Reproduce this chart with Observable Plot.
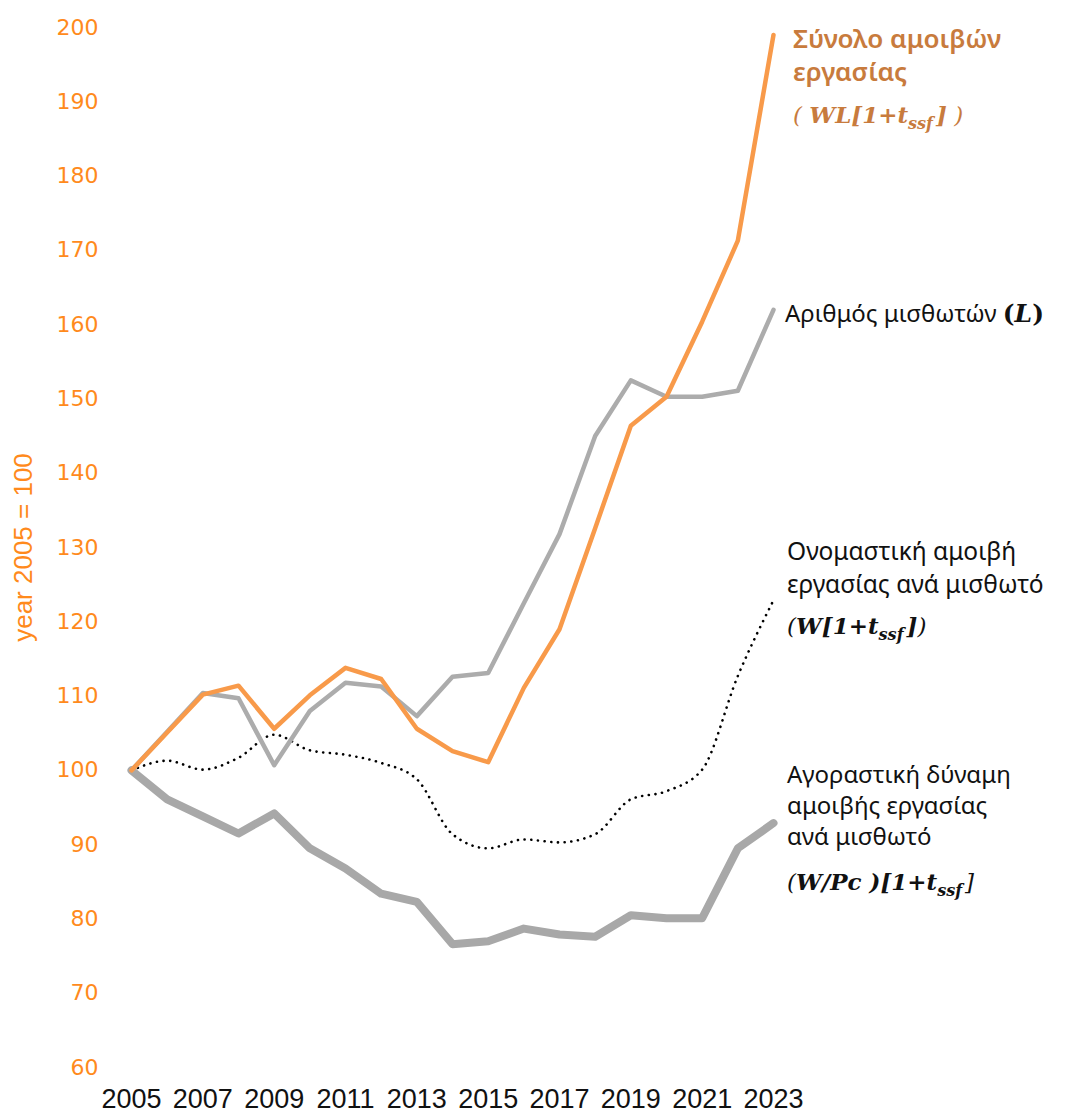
<!DOCTYPE html>
<html><head><meta charset="utf-8">
<script src="https://cdn.jsdelivr.net/npm/d3@7"></script>
<script src="https://cdn.jsdelivr.net/npm/@observablehq/plot@0.6"></script>
<style>body{margin:0;background:#fff}</style>
</head><body><div id="chart"></div>
<script>
// ---- data (index, year 2005 = 100) ----
const years = d3.range(2005, 2024);
const totalComp     = [100,105.1,110.2,111.4,105.6,110.1,113.8,112.3,105.6,102.6,101.1,111.1,119.0,132.6,146.4,150.3,160.4,171.3,199.0];
const employees     = [100,105.2,110.4,109.7,100.7,108.0,111.8,111.3,107.3,112.6,113.1,122.5,131.8,145.0,152.5,150.3,150.3,151.1,162.0];
const nominalPerEmp = [100,101.3,100.1,101.7,104.8,102.7,102.1,101.0,98.8,91.4,89.5,90.7,90.3,91.4,96.1,97.2,100.1,112.7,122.9];
const realPerEmp    = [100,96.1,93.8,91.5,94.2,89.5,86.8,83.4,82.3,76.6,77.0,78.7,77.9,77.6,80.5,80.1,80.1,89.5,92.9];
const yTicks = d3.range(60, 201, 10);
const xTicks = d3.range(2005, 2024, 2);
const yLabel = "year 2005 = 100";

const labelTotal   = ["Σύνολο αμοιβών", "εργασίας"];
const labelEmp     = ["Αριθμός μισθωτών"];
const labelNominal = ["Ονομαστική αμοιβή", "εργασίας ανά μισθωτό"];
const labelReal    = ["Αγοραστική δύναμη", "αμοιβής εργασίας", "ανά μισθωτό"];

const rows = vals => years.map((year, i) => ({year, value: vals[i]}));

const SANS = "'Noto Sans', 'DejaVu Sans', sans-serif";
const SERIF = "'DejaVu Serif', 'Liberation Serif', serif";
const ORANGE_TXT = "#c87b3d";

function addFormula(g, x, y, parts, color) {
  const t = g.append("text").attr("x", x).attr("y", y).attr("text-anchor", "start")
    .attr("font-family", SERIF).attr("font-style", "italic")
    .attr("font-size", 23).attr("fill", color);
  parts.forEach(p => {
    const s = t.append("tspan").text(p.t)
      .attr("font-weight", p.b ? "bold" : "normal");
    if (p.sub) s.attr("font-size", 16).attr("dy", 6);
    if (p.up) s.attr("dy", -6).attr("dx", 3);
  });
}

function annotations(index, scales) {
  const g = d3.create("svg:g").attr("text-anchor", "start");
  const x0 = scales.x(years[years.length - 1]);
  const last = a => scales.y(a[a.length - 1]);
  const lines = (arr, x, y, step, color, size, weight) => {
    arr.forEach((s, i) => g.append("text").attr("x", x).attr("y", y + i * step)
      .attr("text-anchor", "start")
      .attr("font-family", SANS).attr("font-size", size).attr("font-weight", weight)
      .attr("fill", color).text(s));
  };
  // total compensation
  let y = last(totalComp);
  lines(labelTotal, x0 + 20, y + 14, 33, ORANGE_TXT, 26, 600);
  addFormula(g, x0 + 20, y + 89, [{t:"( "}, {t:"WL[1+t", b:true}, {t:"ssf", b:true, sub:true}, {t:"]", b:true, up:true}, {t:" )"}], ORANGE_TXT);
  // employees
  y = last(employees);
  const te = g.append("text").attr("x", x0 + 12).attr("y", y + 13).attr("text-anchor", "start")
    .attr("font-family", SANS).attr("font-size", 24).attr("fill", "#111");
  te.append("tspan").text(labelEmp[0] + " ");
  te.append("tspan").attr("font-family", SERIF).attr("font-size", 25).attr("font-weight", "bold").text("(");
  te.append("tspan").attr("font-family", SERIF).attr("font-size", 25).attr("font-weight", "bold").attr("font-style", "italic").text("L");
  te.append("tspan").attr("font-family", SERIF).attr("font-size", 25).attr("font-weight", "bold").text(")");
  // nominal per employee
  y = last(nominalPerEmp);
  lines(labelNominal, x0 + 14, y - 40, 33, "#111", 24.5, 400);
  addFormula(g, x0 + 14, y + 34, [{t:"("}, {t:"W[1+t", b:true}, {t:"ssf", b:true, sub:true}, {t:"]", b:true, up:true}, {t:")"}], "#111");
  // real per employee
  y = last(realPerEmp);
  lines(labelReal, x0 + 14, y - 40, 31, "#111", 24, 400);
  addFormula(g, x0 + 14, y + 67, [{t:"("}, {t:"W/Pc", b:true}, {t:" )[1+t", b:true}, {t:"ssf", b:true, sub:true}, {t:"]", up:true}], "#111");
  return g.node();
}

const plot = Plot.plot({
  width: 1077, height: 1113,
  marginLeft: 131, marginRight: 304, marginTop: 27, marginBottom: 46,
  style: {background: "#fff", overflow: "visible"},
  x: {domain: [2005, 2023]},
  y: {domain: [60, 200]},
  marks: [
    Plot.axisY({ticks: yTicks, tickSize: 0, tickPadding: 33, label: null, color: "#ff8a1c",
      fontSize: 22, fontFamily: "'DejaVu Sans', sans-serif"}),
    Plot.axisX({ticks: xTicks, tickFormat: d => String(d), tickSize: 0, tickPadding: 21, label: null,
      color: "#111", fontSize: 27, fontFamily: "'Liberation Sans Narrow', 'Liberation Sans', sans-serif"}),
    Plot.text([yLabel], {frameAnchor: "left", dx: -108, rotate: -90, textAnchor: "middle", fill: "#ff8a1c",
      fontSize: 26, fontFamily: "'Liberation Sans Narrow', 'Liberation Sans', sans-serif"}),
    Plot.line(rows(realPerEmp), {x: "year", y: "value", stroke: "#a8a8a8", strokeWidth: 8}),
    Plot.line(rows(nominalPerEmp), {x: "year", y: "value", stroke: "#000", strokeWidth: 2.6,
      strokeDasharray: "0.1 6.6", strokeLinecap: "round", curve: "monotone-x"}),
    Plot.line(rows(employees), {x: "year", y: "value", stroke: "#acacac", strokeWidth: 4.5}),
    Plot.line(rows(totalComp), {x: "year", y: "value", stroke: "#f89a4a", strokeWidth: 4.5}),
    annotations
  ]
});
document.getElementById("chart").appendChild(plot);
</script>
</body></html>
